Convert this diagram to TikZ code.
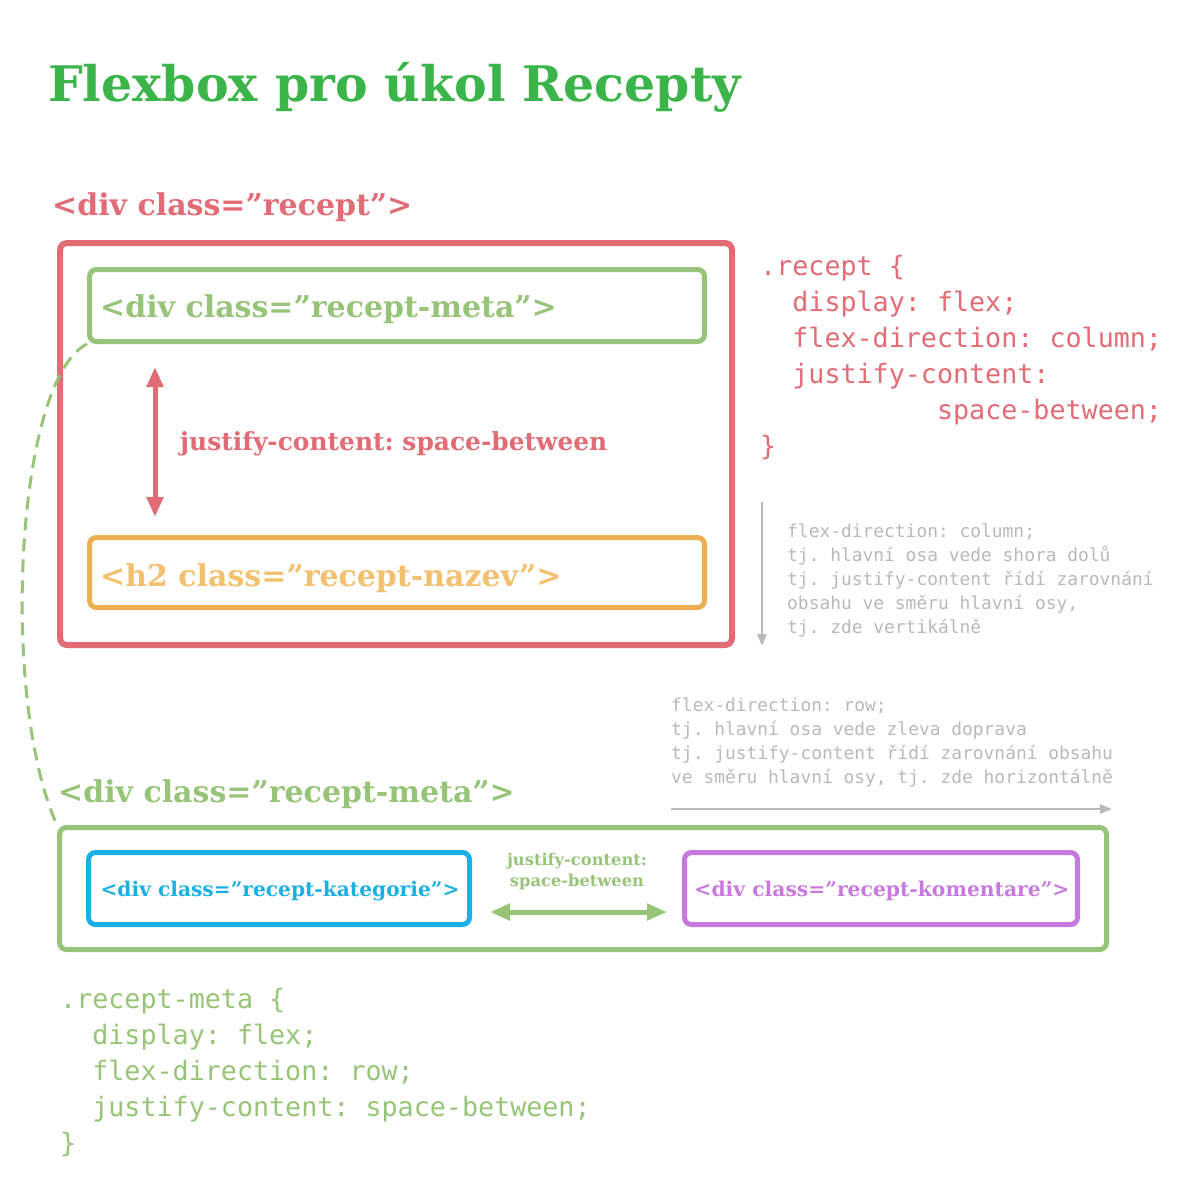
\documentclass[tikz,border=0pt]{standalone}
\usepackage{fontspec}
\usetikzlibrary{arrows.meta}
\newfontfamily\slab{DejaVu Serif}
\newfontfamily\mono{DejaVu Sans Mono}
\definecolor{titlegreen}{RGB}{59,181,74}
\definecolor{cred}{RGB}{225,108,118}
\definecolor{cgreen}{RGB}{151,196,120}
\definecolor{corange}{RGB}{236,176,82}
\definecolor{corangetext}{RGB}{242,192,110}
\definecolor{cblue}{RGB}{26,176,228}
\definecolor{cpurple}{RGB}{199,121,221}
\definecolor{cgray}{RGB}{185,185,185}
\tikzset{
  box/.style={draw, rounded corners=7pt, inner sep=0pt},
  lbl/.style={inner sep=0pt, anchor=base west, font=\slab\bfseries\fontsize{30}{32}\selectfont},
  code/.style={inner sep=0pt, anchor=base west, font=\mono\frenchspacing\fontsize{26.7}{36}\selectfont},
  note/.style={inner sep=0pt, anchor=base west, font=\mono\frenchspacing\fontsize{17.9}{24}\selectfont, text=cgray},
  dbl/.style={line width=5pt, {Triangle[length=20pt,width=16pt]}-{Triangle[length=20pt,width=16pt]}},
  grayarrow/.style={cgray, line width=2.5pt, -{Triangle[length=12pt,width=9pt]}}
}
\begin{document}
\frenchspacing
\begin{tikzpicture}[x=1pt,y=-1pt]
\useasboundingbox[fill=white] (0,0) rectangle (1200,1200);
% title
\node[lbl, text=titlegreen, font=\slab\bfseries\fontsize{49}{52}\selectfont] (title) at (48,101) {Flexbox pro úkol Recepty};
\node[lbl, text=cred] (hrecept) at (52,215) {<div class=”recept”>};
% recept box
\node[box, cred, line width=6pt, minimum width=672pt, minimum height=402pt] (recept) at (396,444) {};
\node[box, cgreen, line width=5pt, minimum width=615pt, minimum height=72pt] (meta) at (397,305.5) {};
\node[lbl, text=cgreen] (metalbl) at (100,317) {<div class=”recept-meta”>};
\node[box, corange, line width=5pt, minimum width=615pt, minimum height=70pt] (nazev) at (397,572.5) {};
\node[lbl, text=corangetext] (nazevlbl) at (100,586) {<h2 class=”recept-nazev”>};
\coordinate (ra) at (155,367);
\coordinate (rb) at (155,517);
\draw[dbl, cred] (ra) -- (rb);
\node[lbl, text=cred, font=\slab\bfseries\fontsize{24.9}{27}\selectfont] (jc1) at (180,450) {justify-content: space-between};
% red code
\node[code, text=cred] (r1) at (760,275) {.recept \{};
\node[code, text=cred] (r2) at (760,311) {\ \ display: flex;};
\node[code, text=cred] (r3) at (760,347) {\ \ flex-direction: column;};
\node[code, text=cred] (r4) at (760,383) {\ \ justify-content:};
\node[code, text=cred] (r5) at (760,419) {\ \ \ \ \ \ \ \ \ \ \ space-between;};
\node[code, text=cred] (r6) at (760,455) {\}};
% gray note 1
\coordinate (ga) at (762,502);
\coordinate (gb) at (762,646);
\draw[grayarrow] (ga) -- (gb);
\node[note] (n1) at (787,537) {flex-direction: column;};
\node[note] (n2) at (787,561) {tj. hlavní osa vede shora dolů};
\node[note] (n3) at (787,585) {tj. justify-content řídí zarovnání};
\node[note] (n4) at (787,609) {obsahu ve směru hlavní osy,};
\node[note] (n5) at (787,633) {tj. zde vertikálně};
% gray note 2
\node[note] (m1) at (671,711) {flex-direction: row;};
\node[note] (m2) at (671,735) {tj. hlavní osa vede zleva doprava};
\node[note] (m3) at (671,759) {tj. justify-content řídí zarovnání obsahu};
\node[note] (m4) at (671,783) {ve směru hlavní osy, tj. zde horizontálně};
\coordinate (ha) at (671,809);
\coordinate (hb) at (1112,809);
\draw[grayarrow] (ha) -- (hb);
% meta section
\node[lbl, text=cgreen] (hmeta) at (58,802) {<div class=”recept-meta”>};
\node[box, cgreen, line width=5pt, minimum width=1047pt, minimum height=122pt] (outer) at (583,888.5) {};
\node[box, cblue, line width=5pt, minimum width=381pt, minimum height=72pt] (kat) at (279,888.5) {};
\node[lbl, text=cblue, anchor=base, font=\slab\bfseries\fontsize{20.2}{22}\selectfont] (katlbl) at (280,896) {<div class=”recept-kategorie”>};
\node[box, cpurple, line width=5pt, minimum width=393pt, minimum height=72pt] (kom) at (881,888.5) {};
\node[lbl, text=cpurple, anchor=base, font=\slab\bfseries\fontsize{20.3}{22}\selectfont] (komlbl) at (882,896) {<div class=”recept-komentare”>};
\node[lbl, text=cgreen, anchor=base, font=\slab\bfseries\fontsize{16.3}{18}\selectfont] (jc2a) at (577,865) {justify-content:};
\node[lbl, text=cgreen, anchor=base, font=\slab\bfseries\fontsize{16.3}{18}\selectfont] (jc2b) at (577,886) {space-between};
\coordinate (la) at (490,912);
\coordinate (lb) at (667,912);
\draw[dbl, cgreen] (la) -- (lb);
% dashed connector
\draw[cgreen, line width=3pt, dash pattern=on 13pt off 8pt] (meta.south west) .. controls (15,380) and (0,700) .. (outer.north west);
% green code
\node[code, text=cgreen] (g1) at (60,1008) {.recept-meta \{};
\node[code, text=cgreen] (g2) at (60,1044) {\ \ display: flex;};
\node[code, text=cgreen] (g3) at (60,1080) {\ \ flex-direction: row;};
\node[code, text=cgreen] (g4) at (60,1116) {\ \ justify-content: space-between;};
\node[code, text=cgreen] (g5) at (60,1152) {\}};
\end{tikzpicture}
\end{document}
